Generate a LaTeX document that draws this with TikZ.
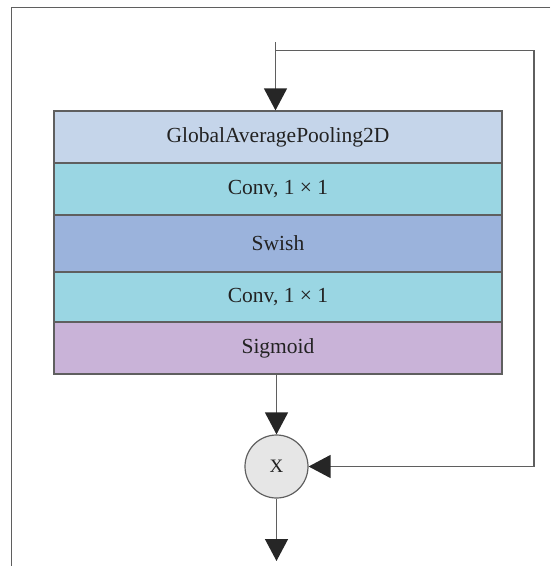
\documentclass[tikz,border=0pt]{standalone}
\usepackage{fontspec}
\setmainfont{Liberation Serif}
\usetikzlibrary{arrows.meta}
\definecolor{gapc}{HTML}{C5D5EA}
\definecolor{convc}{HTML}{9AD6E3}
\definecolor{swishc}{HTML}{9BB3DC}
\definecolor{sigc}{HTML}{C9B3D8}
\definecolor{linec}{HTML}{5F5F5F}
\definecolor{txtc}{HTML}{222222}
\definecolor{circc}{HTML}{E6E6E6}
\definecolor{tipc}{HTML}{262626}
\begin{document}
\begin{tikzpicture}[x=1pt,y=-1pt,
  frame/.style={draw=linec, line width=1.4pt},
  layer/.style={draw=linec, line width=1.2pt, minimum width=448pt, inner sep=0pt,
    text=txtc, font=\fontsize{21.5}{24}\selectfont},
  conn/.style={draw=linec, line width=1.3pt},
  tip/.style={-{Triangle[length=22pt,width=23pt,color=tipc,fill=tipc]}},
  mulnode/.style={circle, draw=linec, line width=1.2pt, fill=circc, minimum size=63pt,
    inner sep=0pt, text=txtc, font=\fontsize{19}{22}\selectfont}]
\useasboundingbox (0,0) rectangle (550,566);
\draw[frame] (550,7.5) -- (11.5,7.5) -- (11.5,566);
\node[layer, fill=gapc, minimum height=52pt] (gap) at (278,137) {GlobalAveragePooling2D};
\node[layer, fill=convc, minimum height=52pt] (conva) at (278,189) {Conv, 1 × 1};
\node[layer, fill=swishc, minimum height=57pt] (swish) at (278,243.5) {Swish};
\node[layer, fill=convc, minimum height=50pt] (convb) at (278,297) {Conv, 1 × 1};
\node[layer, fill=sigc, minimum height=52pt] (sig) at (278,348) {Sigmoid};
\node[mulnode] (mul) at (276.5,466.5) {X};
\coordinate (in) at (275.5,42);
\coordinate (br) at (275.5,50.7);
\coordinate (rt) at (534,50.7);
\coordinate (rb) at (534,466.5);
\coordinate (out) at (276.5,561);
\draw[conn, tip] (in) -- (in |- gap.north);
\draw[conn] (br) -- (rt) -- (rb);
\draw[conn, tip] (rb) -- (mul.east);
\draw[conn, tip] (mul |- sig.south) -- (mul.north);
\draw[conn, tip] (mul.south) -- (out);
\end{tikzpicture}
\end{document}
